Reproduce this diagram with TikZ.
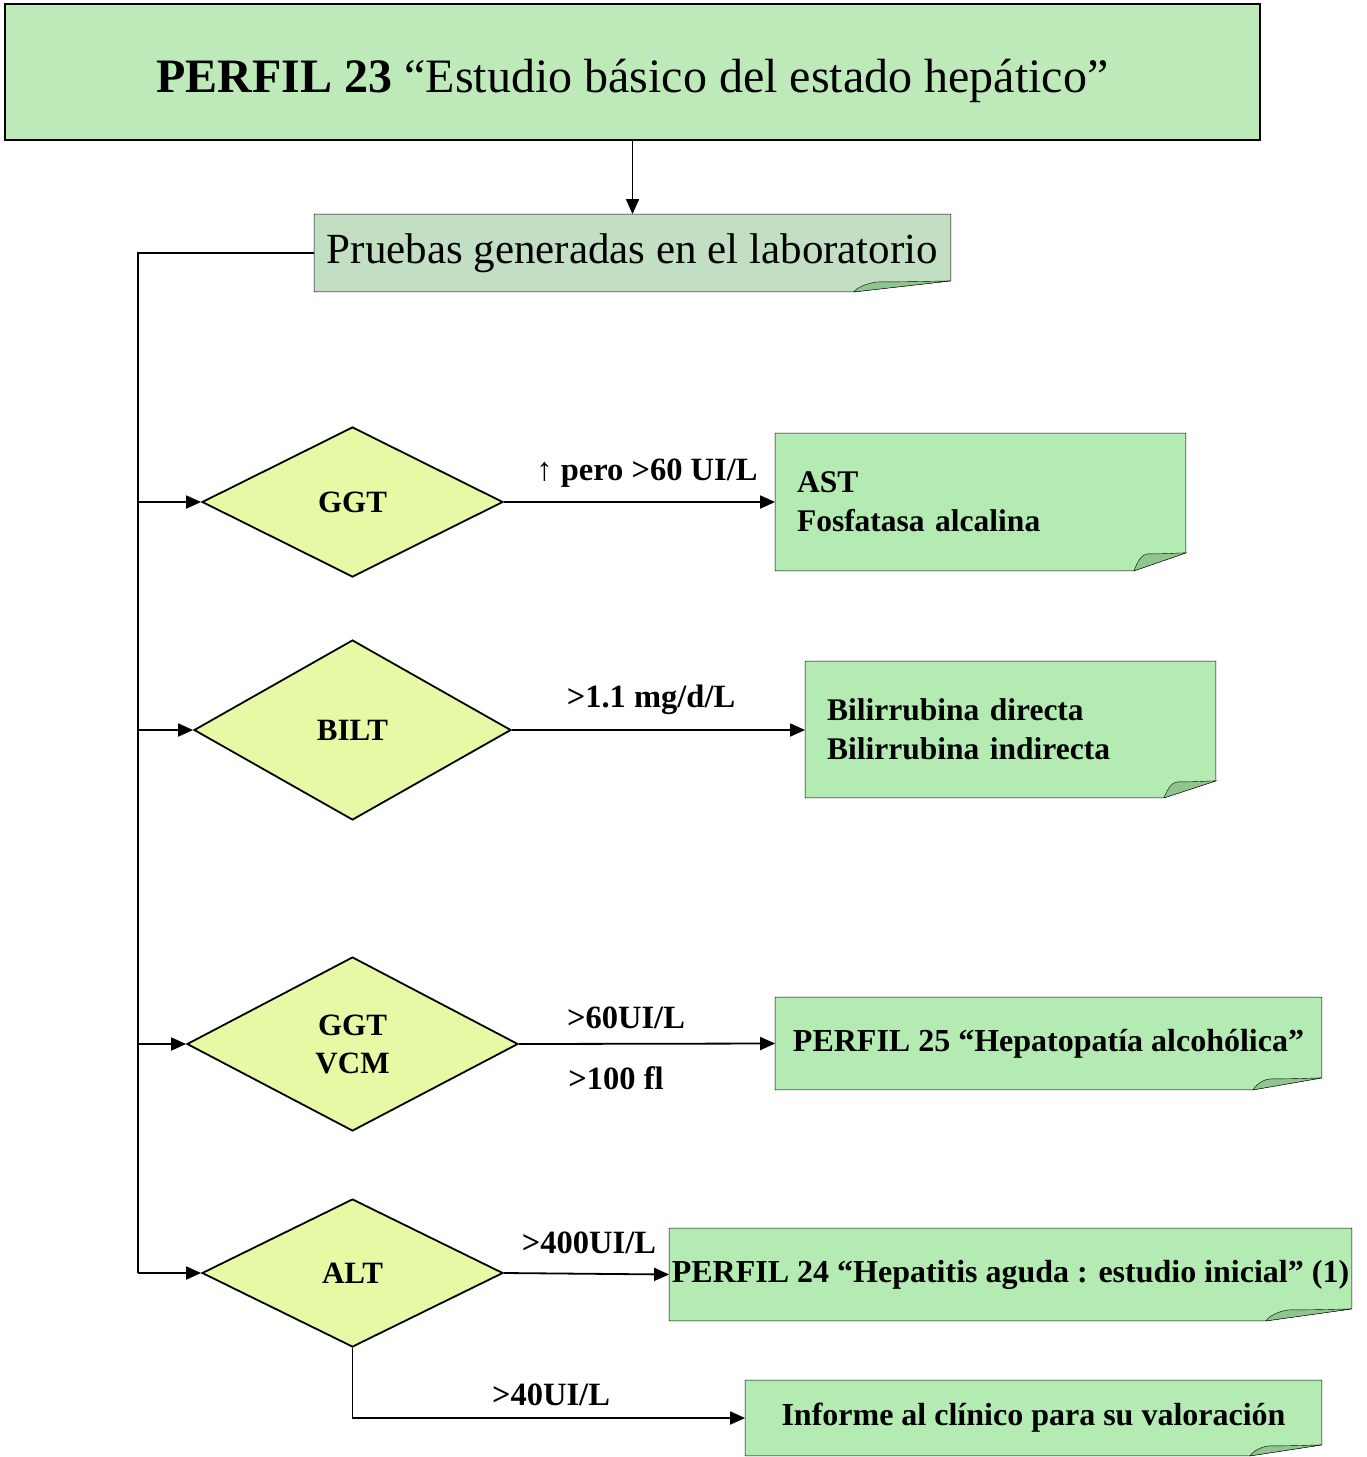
\documentclass[tikz,border=0pt]{standalone}
\usepackage{fontspec}
\setmainfont{Liberation Serif}
\usetikzlibrary{shapes.geometric,arrows.meta,backgrounds}
\definecolor{titlefill}{HTML}{BDEAB8}
\definecolor{prufill}{HTML}{C2DFC3}
\definecolor{boxfill}{HTML}{B3EBB3}
\definecolor{diafill}{HTML}{E6FAA6}
\definecolor{flapfill}{HTML}{90C590}
\newcommand{\foldbox}[6]{%
  \filldraw[fill=#2] (#1.north west) -- (#1.north east) -- ([yshift=#4pt]#1.south east)
     -- ([xshift=-#3pt]#1.south east) -- (#1.south west) -- cycle;
  \filldraw[fill=flapfill] ([xshift=-#3pt]#1.south east)
     .. controls ([xshift=-#3pt+4pt, yshift=#6pt*0.6]#1.south east) and ([xshift=-#5pt-6pt,yshift=#6pt]#1.south east)
     .. ([xshift=-#5pt,yshift=#6pt]#1.south east)
     .. controls ([xshift=-#5pt*0.5, yshift=#6pt]#1.south east) and ([xshift=-8pt,yshift=#4pt]#1.south east)
     .. ([yshift=#4pt]#1.south east) -- cycle;
}
\begin{document}
\begin{tikzpicture}[x=1pt,y=-1pt,line width=1.8pt,line join=miter,
  >={Triangle[length=15pt,width=13pt]},
  dia/.style={diamond,draw,fill=diafill,aspect=1.9,inner sep=0pt,font=\fontsize{31}{38}\selectfont\bfseries,align=center},
  boxtxt/.style={inner sep=0pt,font=\fontsize{32}{39}\selectfont\bfseries},
  lbl/.style={inner sep=0pt,font=\fontsize{32.5}{38}\selectfont\bfseries}]
\useasboundingbox (0,0) rectangle (1366,1457);
% title
\node[draw,fill=titlefill,minimum width=1255pt,minimum height=136pt,inner sep=0pt,
  font=\fontsize{48}{56}\selectfont] (title) at (632.5,72) {\raisebox{-20pt}[0pt][0pt]{{\bfseries PERFIL 23} “Estudio básico del estado hepático”}};
% pruebas
\node[inner sep=0pt,minimum width=635pt,minimum height=76pt,font=\fontsize{43}{50}\selectfont] (pru) at (632.5,253) {Pruebas generadas en el laboratorio};
% diamonds
\node[dia,minimum width=301pt,minimum height=150pt] (ggt) at (352.5,502) {GGT};
\node[dia,minimum width=317pt,minimum height=180pt] (bilt) at (352.5,730) {BILT};
\node[dia,minimum width=331pt,minimum height=174pt] (vcm) at (352.5,1044) {GGT\\VCM};
\node[dia,minimum width=301pt,minimum height=148pt] (alt) at (352.5,1273) {ALT};
% boxes
\node[boxtxt,font=\fontsize{31.5}{39}\selectfont\bfseries,minimum width=409pt,minimum height=136pt,inner xsep=21pt,text width=367pt,align=left] (ast) at (980.5,502) {AST\\Fosfatasa alcalina};
\node[boxtxt,font=\fontsize{31.5}{39}\selectfont\bfseries,minimum width=409pt,minimum height=135pt,inner xsep=21pt,text width=367pt,align=left] (bili) at (1010.5,729.5) {Bilirrubina directa\\Bilirrubina indirecta};
\node[boxtxt,minimum width=545pt,minimum height=91pt] (p25) at (1048.5,1043.5) {PERFIL 25 “Hepatopatía alcohólica”};
\node[boxtxt,minimum width=681pt,minimum height=91pt] (p24) at (1010.5,1274.5) {PERFIL 24 “Hepatitis aguda : estudio inicial” (1)};
\node[boxtxt,minimum width=575pt,minimum height=74pt] (inf) at (1033.5,1418) {Informe al clínico para su valoración};
\begin{scope}[on background layer]
  \foldbox{pru}{prufill}{97}{11}{72}{10}
  \foldbox{ast}{boxfill}{52}{18}{38}{17}
  \foldbox{bili}{boxfill}{52}{17}{38}{16}
  \foldbox{p25}{boxfill}{69}{12}{51}{11}
  \foldbox{p24}{boxfill}{86}{12}{62}{11}
  \foldbox{inf}{boxfill}{72}{11}{52}{10}
\end{scope}
% coordinates of trunk
\coordinate (t0) at (138,253);
\coordinate (t1) at (138,502);
\coordinate (t2) at (138,730);
\coordinate (t3) at (138,1044);
\coordinate (t4) at (138,1273);
% connectors
\draw[->] (title.south) -- (pru.north);
\draw (pru.west) -- (t0) -- (t4);
\draw[->] (t1) -- (ggt.west);
\draw[->] (t2) -- (bilt.west);
\draw[->] (t3) -- (vcm.west);
\draw[->] (t4) -- (alt.west);
\draw[->] (ggt.east) -- (ggt.east -| ast.west);
\draw[->] (bilt.east) -- (bilt.east -| bili.west);
\draw[->] (vcm.east) -- (p25.west);
\draw[->] (alt.east) -- (p24.west);
\draw[->] (alt.south) |- (inf.west);
% labels
\node[lbl] (l1) at (647,473) {↑ pero >60 UI/L};
\node[lbl] (l2) at (651,700) {>1.1 mg/d/L};
\node[lbl] (l3) at (626,1018) {>60UI/L};
\node[lbl] (l4) at (616,1078) {>100 fl};
\node[lbl] (l5) at (589,1243) {>400UI/L};
\node[lbl] (l6) at (551,1395) {>40UI/L};
\end{tikzpicture}
\end{document}
